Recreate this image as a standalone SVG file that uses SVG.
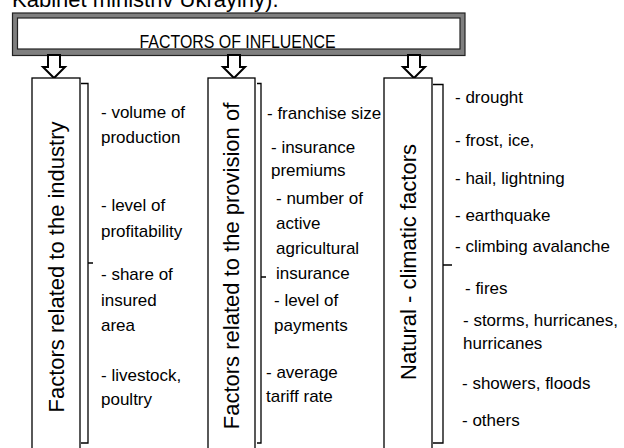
<svg xmlns="http://www.w3.org/2000/svg" width="624" height="448" viewBox="0 0 624 448">
<style>
  text { font-family: "Liberation Sans", Arial, sans-serif; fill: #000; }
  .b { font-size: 17px; }
  .v { font-size: 22px; }
  .hd { font-size: 19px; }
  .box { fill: #fff; stroke: #000; stroke-width: 1.3; }
  .br { fill: none; stroke: #000; stroke-width: 1.3; }
  .arr { fill: #fff; stroke: #000; stroke-width: 2; stroke-linejoin: miter; }
</style>
<rect x="0" y="0" width="624" height="448" fill="#fff"/>
<text x="12" y="7" style="font-size:22px">Kabinet ministriv Ukrayiny).</text>

<g id="header">
  <rect x="12.5" y="13" width="452.5" height="42.5" fill="#7f7f7f" stroke="#222" stroke-width="1.2"/>
  <rect x="17.5" y="18" width="442.5" height="31" fill="#fff" stroke="#222" stroke-width="1.2"/>
  <text class="hd" x="237.5" y="47.5" text-anchor="middle" textLength="196" lengthAdjust="spacingAndGlyphs">FACTORS OF INFLUENCE</text>
</g>

<g id="connectors">
  <path class="arr" d="M48,55 L60,55 L60,67 L65,67 L54,78 L43,67 L48,67 Z"/>
  <path class="arr" d="M228,55 L240,55 L240,67 L245,67 L234,78 L223,67 L228,67 Z"/>
  <path class="arr" d="M408,55 L420,55 L420,67 L425,67 L414,78 L403,67 L408,67 Z"/>
</g>

<g id="industry">
  <rect class="box" x="32" y="78" width="48" height="390"/>
  <text class="v" transform="translate(64,267) rotate(-90)" text-anchor="middle">Factors related to the industry</text>
</g>
<g id="industry-items">
  <path class="br" d="M81,83.5 H88 V443 H81 M88,263 H93"/>
  <text class="b" x="101" y="118">- volume of</text>
  <text class="b" x="101" y="143">production</text>
  <text class="b" x="101" y="211">- level of</text>
  <text class="b" x="101" y="237">profitability</text>
  <text class="b" x="101" y="280">- share of</text>
  <text class="b" x="101" y="306">insured</text>
  <text class="b" x="101" y="331">area</text>
  <text class="b" x="101" y="381">- livestock,</text>
  <text class="b" x="101" y="405">poultry</text>
</g>

<g id="provision">
  <rect class="box" x="208" y="78" width="47" height="390"/>
  <text class="v" transform="translate(239,266) rotate(-90)" text-anchor="middle">Factors related to the provision of</text>
</g>
<g id="provision-items">
  <path class="br" d="M257,83.5 H261 V443 H257 M261,277 H266"/>
  <text class="b" x="267" y="119">- franchise size</text>
  <text class="b" x="271" y="153">- insurance</text>
  <text class="b" x="271" y="176">premiums</text>
  <text class="b" x="276" y="204">- number of</text>
  <text class="b" x="276" y="229">active</text>
  <text class="b" x="276" y="254">agricultural</text>
  <text class="b" x="276" y="279">insurance</text>
  <text class="b" x="274" y="306">- level of</text>
  <text class="b" x="274" y="331">payments</text>
  <text class="b" x="266" y="378">- average</text>
  <text class="b" x="266" y="402">tariff rate</text>
</g>

<g id="natural">
  <rect class="box" x="384" y="78" width="48" height="390"/>
  <text class="v" transform="translate(416,262) rotate(-90)" text-anchor="middle">Natural - climatic factors</text>
</g>
<g id="natural-items">
  <path class="br" d="M433,84.5 H443 V443 H433 M443,265 H452"/>
  <text class="b" x="455" y="103">- drought</text>
  <text class="b" x="455" y="146">- frost, ice,</text>
  <text class="b" x="455" y="184">- hail, lightning</text>
  <text class="b" x="455" y="221">- earthquake</text>
  <text class="b" x="455" y="252">- climbing avalanche</text>
  <text class="b" x="465" y="294">- fires</text>
  <text class="b" x="463" y="326">- storms, hurricanes,</text>
  <text class="b" x="463" y="349">hurricanes</text>
  <text class="b" x="462" y="389">- showers, floods</text>
  <text class="b" x="462" y="426">- others</text>
</g>
</svg>
